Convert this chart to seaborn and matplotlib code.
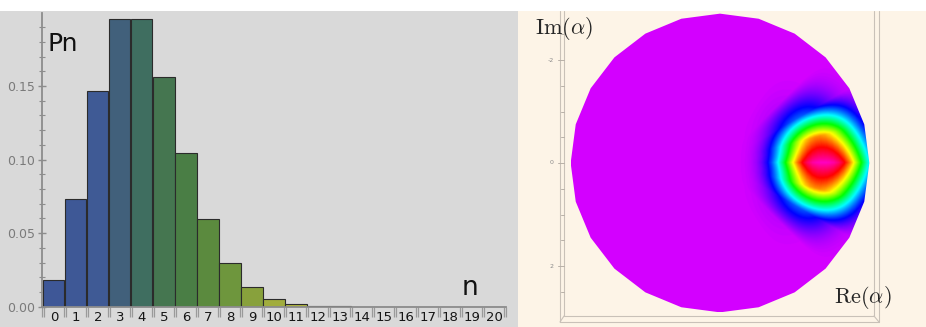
import numpy as np
import pandas as pd
import matplotlib
matplotlib.use("Agg")
import matplotlib.pyplot as plt
import seaborn as sns
from matplotlib.colors import ListedColormap, LinearSegmentedColormap, hsv_to_rgb
from matplotlib.patches import Rectangle, Polygon

# ---- photon-number distribution of a coherent state ----
n_values = list(range(21))
pn_values = [0.0183, 0.0733, 0.1465, 0.1954, 0.1954, 0.1563, 0.1042, 0.0595,
             0.0298, 0.0132, 0.0053, 0.0019, 0.0006, 0.0002, 0.00005, 0.00001,
             0.0, 0.0, 0.0, 0.0, 0.0]
y_ticks = [0.0, 0.05, 0.10, 0.15]
y_tick_labels = ["0.00", "0.05", "0.10", "0.15"]

# ---- phase-space picture: coherent state amplitude ----
alpha_re = 2.0
alpha_im = 0.0
disk_radius = 2.9
blob_width = 0.85
blob_power = 2.7
phase_ticks = [-2, 0, 2]

W_PX, H_PX = 926, 327
sns.set_style("ticks")
plt.rcParams["font.family"] = ["DejaVu Sans"]
plt.rcParams["mathtext.fontset"] = "cm"

fig = plt.figure(figsize=(W_PX / 100, H_PX / 100), dpi=100)
fig.patch.set_facecolor("white")


def fx(px):
    return px / W_PX


def fy(py):
    return 1 - py / H_PX


# panel backgrounds
fig.patches.append(Rectangle((0, 0), fx(518), 1 - 11 / H_PX, transform=fig.transFigure,
                             facecolor="#d9d9d9", edgecolor="none", zorder=-5))
fig.patches.append(Rectangle((fx(518), 0), fx(408), 1 - 11 / H_PX, transform=fig.transFigure,
                             facecolor="#fdf4e7", edgecolor="none", zorder=-5))

# ================= left: bar chart =================
ax = fig.add_axes([fx(42), 20.3 / H_PX, fx(464), 294.2 / H_PX])
ax.set_facecolor("none")

anchor = LinearSegmentedColormap.from_list(
    "bars",
    [(0.0, "#3e5797"), (0.10, "#3f5a95"), (0.15, "#41607a"), (0.20, "#3f6e60"),
     (0.25, "#457650"), (0.30, "#4a7e45"), (0.35, "#5b8a3e"), (0.40, "#6e963d"),
     (0.45, "#88a13c"), (0.50, "#a0ad3d"), (0.55, "#b1b63e"), (0.60, "#c1bc40"),
     (1.0, "#d8c44a")])
bar_colors = [anchor(k / 20) for k in n_values]

df = pd.DataFrame({"n": n_values, "Pn": pn_values, "lab": [str(k) for k in n_values]})
sns.barplot(data=df, x="n", y="Pn", hue="lab", palette=bar_colors, legend=False,
            dodge=False, width=0.955, saturation=1, edgecolor="#2b2b2b",
            linewidth=0.8, ax=ax)

ax.set_xlim(-0.5, 20.5)
ax.set_ylim(0, 0.2)
ax.set_xlabel("")
ax.set_ylabel("")
for s in ["top", "right"]:
    ax.spines[s].set_visible(False)
for s in ["left", "bottom"]:
    ax.spines[s].set_color("#8c8c8c")
    ax.spines[s].set_linewidth(1.3)

ax.set_yticks(y_ticks)
ax.set_yticklabels(y_tick_labels)
ax.set_yticks(np.arange(0.0, 0.2, 0.01), minor=True)
ax.tick_params(axis="y", which="major", direction="inout", length=6, width=1,
               color="#8c8c8c", labelcolor="#7a7a7a", labelsize=9, pad=2)
ax.tick_params(axis="y", which="minor", direction="inout", length=4, width=0.8,
               color="#8c8c8c")

ax.set_xticks(n_values)
ax.set_xticklabels([str(k) for k in n_values])
bounds = []
for k in range(-1, 21):
    bounds += [k + 0.5 - 0.045, k + 0.5 + 0.045]
ax.set_xticks(bounds, minor=True)
ax.tick_params(axis="x", which="major", length=0, pad=3, labelsize=9.5, labelcolor="#151515")
ax.tick_params(axis="x", which="minor", direction="out", length=7, width=0.9, color="#9a9a9a")

fig.text(fx(48), fy(51), "Pn", fontsize=18, va="baseline", ha="left", color="#111111")
fig.text(fx(462), fy(295), "n", fontsize=19, va="baseline", ha="left", color="#111111")

# ================= right: phase-space disk =================
scale = 51.5
cx, cy = 720, 163
ax2 = fig.add_axes([fx(518), 0, fx(408), 316 / H_PX])
ax2.set_xlim((518 - cx) / scale, (926 - cx) / scale)
ax2.set_ylim((327 - cy) / scale, (11 - cy) / scale)
ax2.axis("off")

# hue colour function: background magenta, peak wraps round to pink
vals = np.linspace(0, 1, 256)
hues = (0.805 - 0.93 * vals) % 1.0
hue_cmap = ListedColormap(hsv_to_rgb(np.stack([hues, np.ones_like(vals), np.ones_like(vals)], axis=1)))

# surface sampled on a coarse polar mesh, interpolated across each cell
n_theta, n_r = 24, 29
th_nodes = np.linspace(0, 2 * np.pi, n_theta + 1)
r_nodes = np.linspace(0, disk_radius, n_r + 1)
TH, RR = np.meshgrid(th_nodes, r_nodes)
XN, YN = RR * np.cos(TH), RR * np.sin(TH)
DN = np.hypot(XN - alpha_re, YN - alpha_im)
WN = np.exp(-(DN / blob_width) ** blob_power)

g = np.linspace(-disk_radius, disk_radius, 700)
GX, GY = np.meshgrid(g, g)
gr = np.hypot(GX, GY)
gt = np.mod(np.arctan2(GY, GX), 2 * np.pi)
fi = np.clip(gr / disk_radius * n_r, 0, n_r - 1e-9)
fj = np.clip(gt / (2 * np.pi) * n_theta, 0, n_theta - 1e-9)
i0 = fi.astype(int)
j0 = fj.astype(int)
di = fi - i0
dj = fj - j0
field = ((1 - di) * (1 - dj) * WN[i0, j0] + di * (1 - dj) * WN[i0 + 1, j0]
         + (1 - di) * dj * WN[i0, j0 + 1] + di * dj * WN[i0 + 1, j0 + 1])

im = ax2.imshow(field, extent=(-disk_radius, disk_radius, -disk_radius, disk_radius),
                origin="lower", cmap=hue_cmap, vmin=0, vmax=1, interpolation="bilinear",
                zorder=2)
ax2.set_aspect("auto")
poly_t = np.linspace(0, 2 * np.pi, n_theta + 1)[:-1]
disk = Polygon(np.column_stack([disk_radius * np.cos(poly_t), disk_radius * np.sin(poly_t)]),
               closed=True, transform=ax2.transData, facecolor="none", edgecolor="none")
ax2.add_patch(disk)
im.set_clip_path(disk)

# bounding box of the 3D view
box_col = "#c9c1b8"
p = lambda v: (v - cx) / scale
q = lambda v: (v - cy) / scale
top = q(11)
ax2.plot([p(560), p(560)], [top, q(322)], color=box_col, lw=0.8, zorder=1)
ax2.plot([p(564), p(564)], [top, q(316)], color=box_col, lw=0.8, zorder=1)
ax2.plot([p(874), p(874)], [top, q(316)], color=box_col, lw=0.8, zorder=1)
ax2.plot([p(879), p(879)], [top, q(322)], color=box_col, lw=0.8, zorder=1)
ax2.plot([p(564), p(874)], [q(316), q(316)], color=box_col, lw=0.8, zorder=1)
ax2.plot([p(560), p(879)], [q(322), q(322)], color=box_col, lw=0.8, zorder=1)
ax2.plot([p(560), p(564)], [q(322), q(316)], color=box_col, lw=0.8, zorder=1)
ax2.plot([p(874), p(879)], [q(316), q(322)], color=box_col, lw=0.8, zorder=1)

for v in np.arange(-2.5, 3.0, 0.5):
    ln = 0.11 if v in phase_ticks else 0.06
    ax2.plot([p(564) - ln, p(564)], [v, v], color="#b8b0a8", lw=0.7, zorder=1)
for v in phase_ticks:
    ax2.text(p(564) - 0.2, v, str(v), fontsize=4.5, color="#8a8a8a", ha="right", va="center")

fig.text(fx(535), fy(34), r"$\mathrm{Im}(\alpha)$", fontsize=16, va="baseline", ha="left")
fig.text(fx(834), fy(303), r"$\mathrm{Re}(\alpha)$", fontsize=16, va="baseline", ha="left")

fig.savefig("out.png", dpi=100)
